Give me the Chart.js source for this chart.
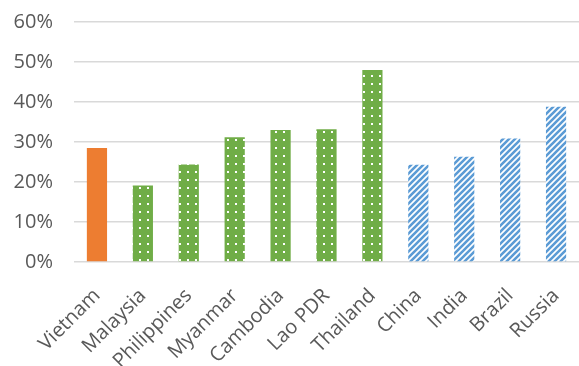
<!DOCTYPE html>
<html>
<head>
<meta charset="utf-8">
<script src="https://cdn.jsdelivr.net/npm/chart.js@4"></script>
<style>
  html, body { margin: 0; padding: 0; background: #fff; }
</style>
</head>
<body>
<canvas id="shareChart" width="579" height="366"></canvas>
<script>
const countries = ['Vietnam', 'Malaysia', 'Philippines', 'Myanmar', 'Cambodia', 'Lao PDR', 'Thailand', 'China', 'India', 'Brazil', 'Russia'];
const shares = [28.5, 19.1, 24.4, 31.2, 33.0, 33.2, 48.0, 24.3, 26.3, 30.9, 38.8];
const groups = ['vn', 'asean', 'asean', 'asean', 'asean', 'asean', 'asean', 'other', 'other', 'other', 'other'];
const yTicks = [0, 10, 20, 30, 40, 50, 60];

// pattern fills like the Excel ones
function dotPattern(bg) {
  const c = document.createElement('canvas');
  c.width = 8; c.height = 8;
  const g = c.getContext('2d');
  g.fillStyle = bg;
  g.fillRect(0, 0, 8, 8);
  g.fillStyle = '#ffffff';
  g.fillRect(3, 3, 2, 2);
  return g.createPattern(c, 'repeat');
}

function stripePattern(fg) {
  const s = 6;
  const c = document.createElement('canvas');
  c.width = s; c.height = s;
  const g = c.getContext('2d');
  g.fillStyle = '#ffffff';
  g.fillRect(0, 0, s, s);
  g.strokeStyle = fg;
  g.lineWidth = 2.6;
  g.beginPath();
  g.moveTo(-1, s + 1); g.lineTo(s + 1, -1);
  g.moveTo(-1, 1); g.lineTo(1, -1);
  g.moveTo(s - 1, s + 1); g.lineTo(s + 1, s - 1);
  g.stroke();
  return g.createPattern(c, 'repeat');
}

document.addEventListener('DOMContentLoaded', function () {
  const ctx = document.getElementById('shareChart').getContext('2d');
  const fills = {
    vn: '#ED7D31',
    asean: dotPattern('#70AD47'),
    other: stripePattern('#5B9BD5')
  };

  new Chart(ctx, {
    type: 'bar',
    data: {
      labels: countries,
      datasets: [{
        data: shares,
        backgroundColor: groups.map(g => fills[g]),
        borderWidth: 0,
        barPercentage: 0.44,
        categoryPercentage: 1
      }]
    },
    options: {
      responsive: false,
      animation: false,
      layout: { padding: { top: 22, right: 0, left: 0, bottom: 0 } },
      plugins: {
        legend: { display: false },
        tooltip: { enabled: false }
      },
      scales: {
        x: {
          grid: { display: false },
          border: { display: false },
          ticks: {
            color: '#595959',
            font: { family: 'Open Sans', size: 20 },
            minRotation: 45,
            maxRotation: 45,
            padding: 14
          },
          afterFit: (scale) => {
            scale.height = 104;
            scale.paddingLeft = 0;
            scale.paddingRight = 0;
          }
        },
        y: {
          min: 0,
          max: 60,
          afterBuildTicks: (scale) => { scale.ticks = yTicks.map(v => ({ value: v })); },
          grid: { color: '#d9d9d9', lineWidth: 1.5, drawTicks: false },
          border: { display: false },
          ticks: {
            color: '#595959',
            font: { family: 'Open Sans', size: 20 },
            padding: 21,
            callback: (v) => v + '%'
          },
          afterFit: (scale) => {
            scale.width = 74;
            scale.paddingTop = 0;
            scale.paddingBottom = 0;
          }
        }
      }
    }
  });
});
</script>
</body>
</html>
